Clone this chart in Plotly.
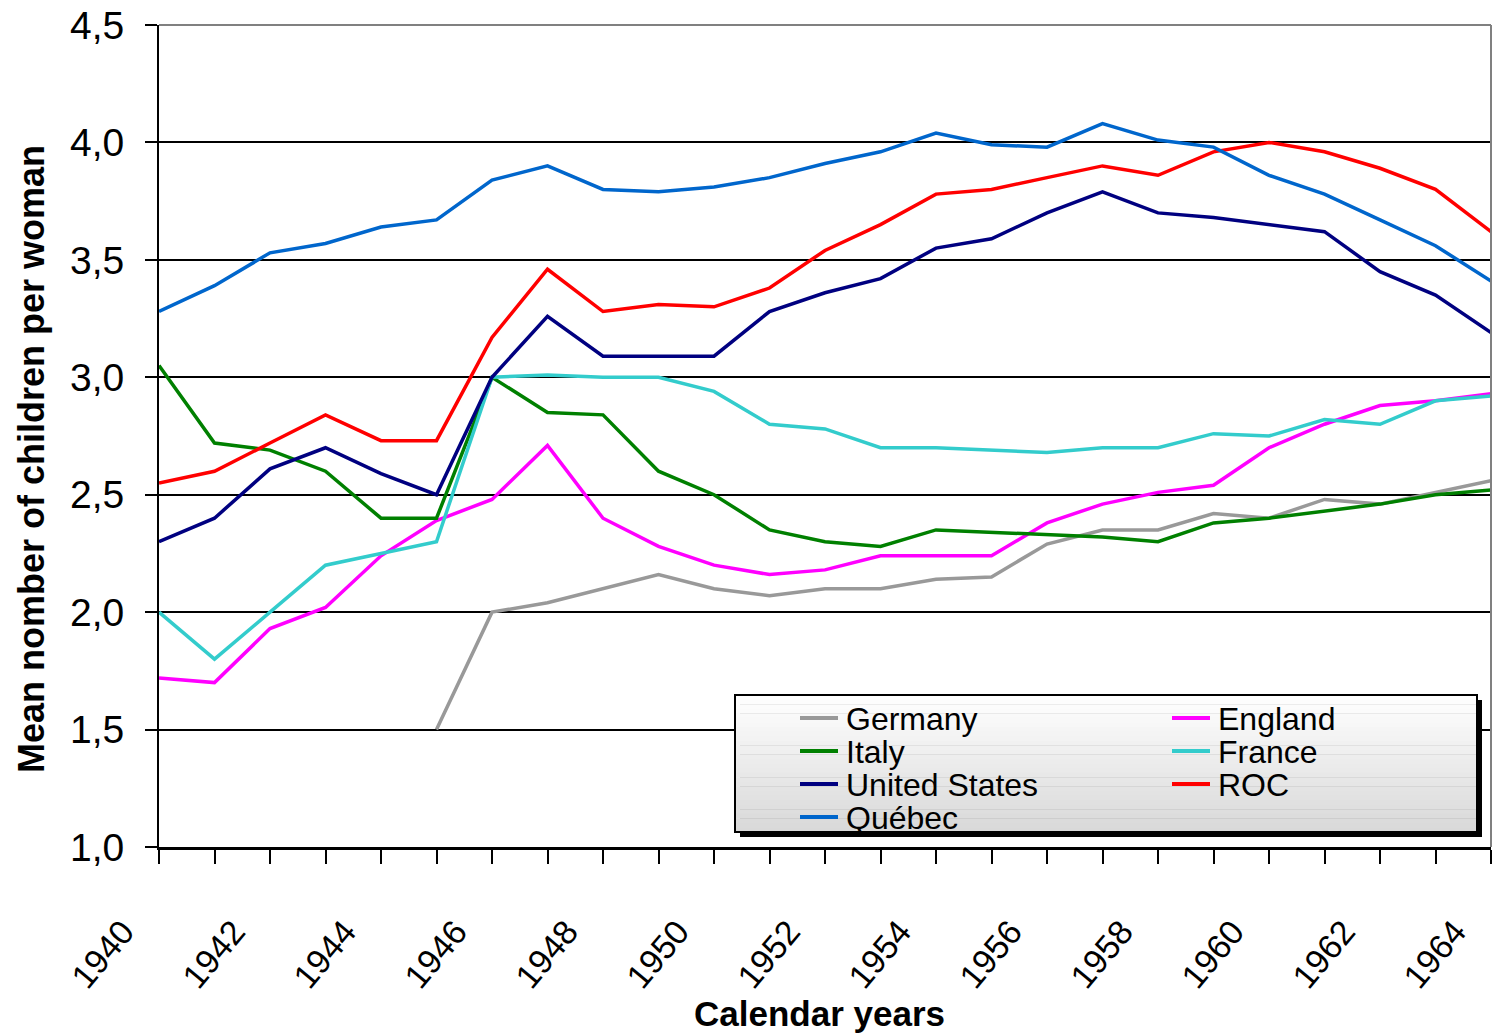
import plotly.graph_objects as go

years = list(range(1940, 1965))

germany = [None, None, None, None, None, 1.50, 2.00, 2.04, 2.10, 2.16, 2.10, 2.07, 2.10,
           2.10, 2.14, 2.15, 2.29, 2.35, 2.35, 2.42, 2.40, 2.48, 2.46, 2.51, 2.56]
england = [1.72, 1.70, 1.93, 2.02, 2.24, 2.39, 2.48, 2.71, 2.40, 2.28, 2.20, 2.16, 2.18,
           2.24, 2.24, 2.24, 2.38, 2.46, 2.51, 2.54, 2.70, 2.80, 2.88, 2.90, 2.93]
italy = [3.05, 2.72, 2.69, 2.60, 2.40, 2.40, 3.00, 2.85, 2.84, 2.60, 2.50, 2.35, 2.30,
         2.28, 2.35, 2.34, 2.33, 2.32, 2.30, 2.38, 2.40, 2.43, 2.46, 2.50, 2.52]
france = [2.00, 1.80, 2.00, 2.20, 2.25, 2.30, 3.00, 3.01, 3.00, 3.00, 2.94, 2.80, 2.78,
          2.70, 2.70, 2.69, 2.68, 2.70, 2.70, 2.76, 2.75, 2.82, 2.80, 2.90, 2.92]
united_states = [2.30, 2.40, 2.61, 2.70, 2.59, 2.50, 3.00, 3.26, 3.09, 3.09, 3.09, 3.28, 3.36,
                 3.42, 3.55, 3.59, 3.70, 3.79, 3.70, 3.68, 3.65, 3.62, 3.45, 3.35, 3.19]
roc = [2.55, 2.60, 2.72, 2.84, 2.73, 2.73, 3.17, 3.46, 3.28, 3.31, 3.30, 3.38, 3.54,
       3.65, 3.78, 3.80, 3.85, 3.90, 3.86, 3.96, 4.00, 3.96, 3.89, 3.80, 3.62]
quebec = [3.28, 3.39, 3.53, 3.57, 3.64, 3.67, 3.84, 3.90, 3.80, 3.79, 3.81, 3.85, 3.91,
          3.96, 4.04, 3.99, 3.98, 4.08, 4.01, 3.98, 3.86, 3.78, 3.67, 3.56, 3.41]

y_ticks = [1.0, 1.5, 2.0, 2.5, 3.0, 3.5, 4.0, 4.5]
x_labels = [str(y) if y % 2 == 0 else "" for y in years]

# (name, values, colour, legend column, legend row)
series = [
    ("Germany", germany, "#999999", 0, 0),
    ("England", england, "#FF00FF", 1, 0),
    ("Italy", italy, "#008000", 0, 1),
    ("France", france, "#33CCCC", 1, 1),
    ("United States", united_states, "#000080", 0, 2),
    ("ROC", roc, "#FF0000", 1, 2),
    ("Québec", quebec, "#0066CC", 0, 3),
]

FONT = "Liberation Sans, Arial, sans-serif"
W, H = 1492, 1035
L, R, T, B = 159, 1491, 25, 847  # plot area in pixels


def px(x):
    return (x - L) / (R - L)


def py(y):
    return (B - y) / (B - T)


fig = go.Figure()
for name, vals, color, _, _ in series:
    fig.add_trace(go.Scatter(x=years, y=vals, name=name, mode="lines",
                             line={"color": color, "width": 3.5}, showlegend=False))

shapes = []
annotations = []

# plot border (grey top and right)
shapes.append(dict(type="line", xref="paper", yref="paper", x0=0, x1=1, y0=1, y1=1,
                   line={"color": "#808080", "width": 2}))
shapes.append(dict(type="line", xref="paper", yref="paper", x0=1, x1=1, y0=0, y1=1,
                   line={"color": "#808080", "width": 2}))

# legend box: shadow, gradient fill, border
lx0, lx1, ly0, ly1 = 735, 1477, 695, 832
shapes.append(dict(type="rect", xref="paper", yref="paper", layer="above",
                   x0=px(lx0 + 5), x1=px(lx1 + 5), y0=py(ly0 + 5), y1=py(ly1 + 5),
                   fillcolor="black", line={"width": 0}))
n_strips = 30
for i in range(n_strips):
    g = int(255 - (255 - 217) * i / (n_strips - 1))
    y0 = ly0 + (ly1 - ly0) * i / n_strips
    y1 = ly0 + (ly1 - ly0) * (i + 1) / n_strips + 0.5
    shapes.append(dict(type="rect", xref="paper", yref="paper", layer="above",
                       x0=px(lx0), x1=px(lx1), y0=py(y0), y1=py(y1),
                       fillcolor=f"rgb({g},{g},{g})", line={"width": 0}))
shapes.append(dict(type="rect", xref="paper", yref="paper", layer="above",
                   x0=px(lx0), x1=px(lx1), y0=py(ly0), y1=py(ly1),
                   line={"color": "black", "width": 2}))

col_x = [800, 1172]
row_y = [718, 751, 784, 817]
for name, _, color, col, row in series:
    x0 = col_x[col]
    yc = row_y[row]
    shapes.append(dict(type="line", xref="paper", yref="paper", layer="above",
                       x0=px(x0), x1=px(x0 + 38), y0=py(yc), y1=py(yc),
                       line={"color": color, "width": 4}))
    annotations.append(dict(xref="paper", yref="paper", x=px(x0 + 44), y=py(yc + 1),
                            text=name, showarrow=False, xanchor="left", yanchor="middle",
                            font={"family": FONT, "size": 32, "color": "black"}))

# axis titles
annotations.append(dict(xref="paper", yref="paper", x=px(31), y=py(459),
                        text="<b>Mean nomber of children per woman</b>", textangle=-90,
                        showarrow=False, xanchor="center", yanchor="middle",
                        font={"family": FONT, "size": 36, "color": "black"}))
annotations.append(dict(xref="paper", yref="paper", x=px(819), y=py(1013),
                        text="<b>Calendar years</b>", showarrow=False,
                        xanchor="center", yanchor="middle",
                        font={"family": FONT, "size": 35, "color": "black"}))

fig.update_layout(
    width=W,
    height=H,
    margin={"l": L, "r": W - R, "t": T, "b": H - B, "pad": 0},
    paper_bgcolor="white",
    plot_bgcolor="white",
    separators=",.",
    showlegend=False,
    shapes=shapes,
    annotations=annotations,
    font={"family": FONT, "color": "black"},
    xaxis={
        "range": [1940, 1964],
        "tickmode": "array",
        "tickvals": years,
        "ticktext": x_labels,
        "tickangle": -50,
        "ticks": "outside",
        "ticklen": 14,
        "tickwidth": 2,
        "tickcolor": "black",
        "ticklabelstandoff": 34,
        "ticklabelshift": -36,
        "ticklabeloverflow": "allow",
        "showline": True,
        "linecolor": "black",
        "linewidth": 3,
        "showgrid": False,
        "zeroline": False,
        "tickfont": {"family": FONT, "size": 34, "color": "black"},
    },
    yaxis={
        "range": [1.0, 4.5],
        "tickmode": "array",
        "tickvals": y_ticks,
        "tickformat": ".1f",
        "ticks": "outside",
        "ticklen": 12,
        "tickwidth": 2,
        "tickcolor": "black",
        "ticklabelstandoff": 13,
        "showline": True,
        "linecolor": "black",
        "linewidth": 2,
        "showgrid": True,
        "gridcolor": "black",
        "gridwidth": 1.5,
        "zeroline": False,
        "tickfont": {"family": FONT, "size": 39, "color": "black"},
    },
)

fig.write_html("out.html", config={"displayModeBar": False},
               post_script="document.body.style.margin = '0px';")
